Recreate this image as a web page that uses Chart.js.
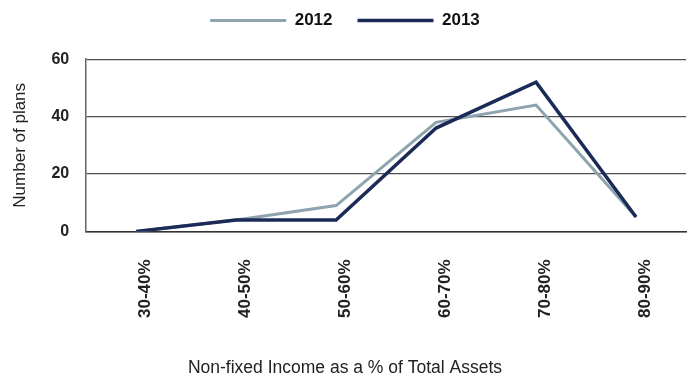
<!DOCTYPE html>
<html>
<head>
<meta charset="utf-8">
<script src="https://cdn.jsdelivr.net/npm/chart.js@4/dist/chart.umd.min.js"></script>
<style>
  html, body { margin: 0; padding: 0; background: #ffffff; }
  #wrap { width: 690px; height: 379px; }
</style>
</head>
<body>
<div id="wrap"><canvas id="c" width="690" height="379"></canvas></div>
<script>
const categories = ['30-40%', '40-50%', '50-60%', '60-70%', '70-80%', '80-90%'];
const values2012 = [0, 4, 9, 38, 44, 5];
const values2013 = [0, 4, 4, 36, 52, 5];
const seriesNames = ['2012', '2013'];
const yTicks = [0, 20, 40, 60];
const xTitle = 'Non-fixed Income as a % of Total Assets';
const yTitle = 'Number of plans';

const FONT = "'Liberation Sans', Arial, Helvetica, sans-serif";

new Chart(document.getElementById('c'), {
  type: 'line',
  data: {
    labels: categories,
    datasets: [
      {
        label: seriesNames[0],
        data: values2012,
        borderColor: '#8da3ae',
        backgroundColor: '#8da3ae',
        borderWidth: 3,
        pointRadius: 0,
        tension: 0,
        borderJoinStyle: 'miter',
        order: 1
      },
      {
        label: seriesNames[1],
        data: values2013,
        borderColor: '#1c2a57',
        backgroundColor: '#1c2a57',
        borderWidth: 3.5,
        pointRadius: 0,
        tension: 0,
        borderJoinStyle: 'miter',
        order: 0
      }
    ]
  },
  options: {
    responsive: false,
    animation: false,
    devicePixelRatio: 1,
    layout: { padding: { top: -13, right: 4, bottom: 0, left: 4 } },
    plugins: {
      legend: {
        display: true,
        position: 'top',
        align: 'center',
        labels: {
          sort: (a, b) => a.datasetIndex - b.datasetIndex,
          usePointStyle: true,
          pointStyle: 'line',
          pointStyleWidth: 76,
          padding: 25,
          color: '#111111',
          font: { family: FONT, size: 17, weight: 'bold' }
        }
      },
      title: {
        display: true,
        text: '',
        position: 'top',
        weight: 500,
        font: { size: 1 },
        padding: { top: 0, bottom: 19 }
      },
      subtitle: {
        display: true,
        text: xTitle,
        position: 'bottom',
        color: '#222222',
        font: { family: FONT, size: 17.5, weight: 'normal' },
        padding: { top: 12, bottom: 0 }
      },
      tooltip: { enabled: false }
    },
    scales: {
      x: {
        offset: true,
        grid: { display: false, drawTicks: false },
        border: { display: true, color: '#333333', width: 1.5 },
        ticks: {
          minRotation: 90,
          maxRotation: 90,
          padding: 28,
          labelOffset: 9,
          color: '#222222',
          font: { family: FONT, size: 17, weight: 'bold' }
        },
        title: { display: false }
      },
      y: {
        min: 0,
        max: 60,
        afterBuildTicks: (scale) => { scale.ticks = yTicks.map(v => ({ value: v })); },
        grid: { color: '#505050', lineWidth: 1.3, drawTicks: false },
        border: { display: true, color: '#666666', width: 1.5 },
        ticks: {
          padding: 17,
          color: '#222222',
          font: { family: FONT, size: 16, weight: 'bold' }
        },
        title: {
          display: true,
          text: yTitle,
          color: '#222222',
          font: { family: FONT, size: 17 },
          padding: { top: 6, bottom: 4 }
        }
      }
    }
  }
});
</script>
</body>
</html>
